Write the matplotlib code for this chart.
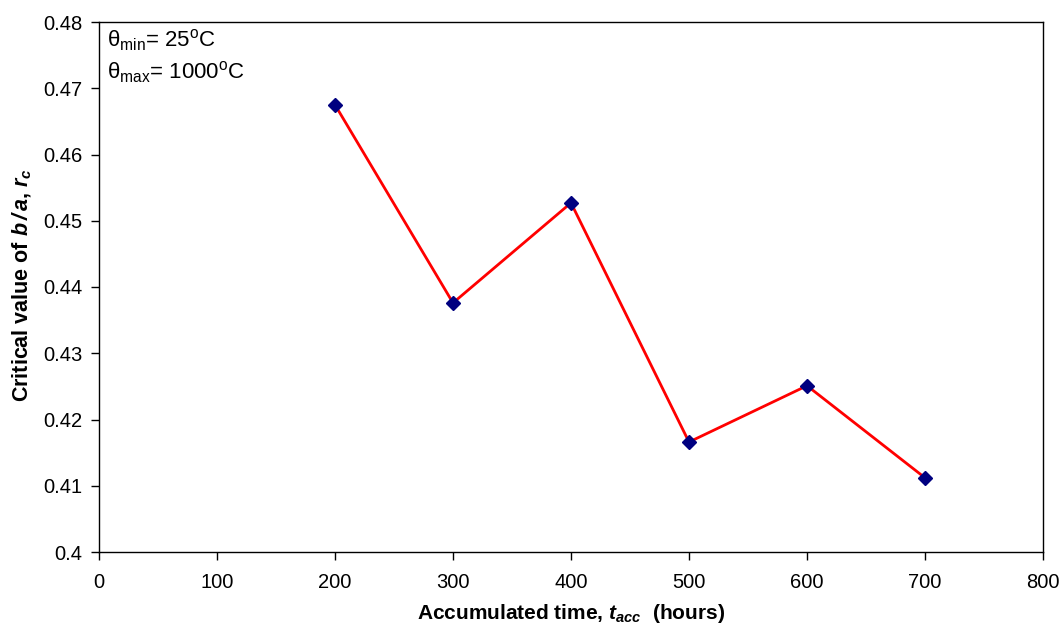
import matplotlib
matplotlib.use("Agg")
import matplotlib.pyplot as plt

plt.rcParams['font.family'] = ['Liberation Sans', 'DejaVu Sans']
plt.rcParams['mathtext.fontset'] = 'custom'
plt.rcParams['mathtext.rm'] = 'Liberation Sans'
plt.rcParams['mathtext.it'] = 'Liberation Sans:italic'
plt.rcParams['mathtext.bf'] = 'Liberation Sans:bold'
plt.rcParams['mathtext.bfit'] = 'Liberation Sans:bold:italic'

t_acc = [200, 300, 400, 500, 600, 700]
r_c = [0.4675, 0.4376, 0.4527, 0.4166, 0.4251, 0.4112]
x_ticks = [0, 100, 200, 300, 400, 500, 600, 700, 800]
y_ticks = [0.40, 0.41, 0.42, 0.43, 0.44, 0.45, 0.46, 0.47, 0.48]
y_tick_labels = ['0.4', '0.41', '0.42', '0.43', '0.44', '0.45', '0.46', '0.47', '0.48']

fig = plt.figure(figsize=(10.63, 6.29), dpi=100)
ax = fig.add_axes([99/1063, 1 - 552/629, (1043-99)/1063, (552-22)/629])

ax.plot(t_acc, r_c, color='#ff0000', lw=2, zorder=2)
ax.plot(t_acc, r_c, linestyle='none', marker='D', markersize=7,
        color='#000080', markeredgecolor='#000080', zorder=3)

ax.set_xlim(0, 800)
ax.set_ylim(0.40, 0.48)
ax.set_xticks(x_ticks)
ax.set_yticks(y_ticks)
ax.set_yticklabels(y_tick_labels)
ax.tick_params(direction='out', length=6, width=1, labelsize=14.5, colors='black')
ax.tick_params(axis='x', pad=9)
ax.tick_params(axis='y', pad=6)
for s in ax.spines.values():
    s.set_linewidth(1)
    s.set_color('black')

fig.text(0.5 * (99 + 1043) / 1063, 1 - 619/629,
         r'Accumulated time, $\mathbfit{t}_{\mathbfit{acc}}$  (hours)',
         ha='center', va='baseline', fontsize=15, fontweight='bold')
fig.text(22/1063, 1 - 285/629,
         r'Critical value of $\mathbfit{b\,/\,a}$, $\mathbfit{r}_{\mathbfit{c}}$',
         ha='center', va='center', rotation=90, fontsize=15.5, fontweight='bold')

ax.text(8/944, 1 - 18/530, r'θ$_{\rm min}$= 25$^{\rm o}$C', transform=ax.transAxes,
        fontsize=16, va='center', ha='left')
ax.text(8/944, 1 - 50/530, r'θ$_{\rm max}$= 1000$^{\rm o}$C', transform=ax.transAxes,
        fontsize=16, va='center', ha='left')

fig.savefig('out.png', dpi=100)
